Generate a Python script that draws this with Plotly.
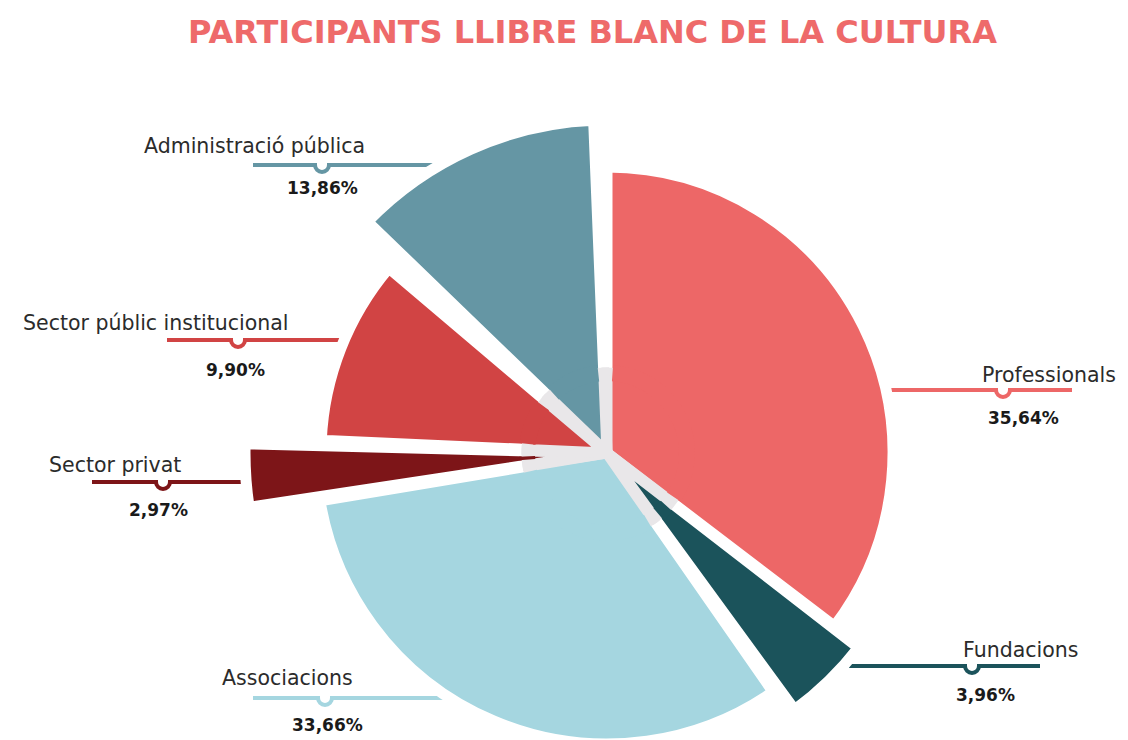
import plotly.graph_objects as go

# ---------------- data ----------------
categories = ["Professionals", "Fundacions", "Associacions", "Sector privat",
              "Sector públic institucional", "Administració pública"]
percentages = [35.64, 3.96, 33.66, 2.97, 9.90, 13.86]
title_text = "PARTICIPANTS LLIBRE BLANC DE LA CULTURA"

# ---------------- style ----------------
colors = ["#ED6767", "#1B535B", "#A5D6E0", "#7D1518", "#D14444", "#6596A4"]
slice_radius = [286, 318, 291, 362, 286, 333]   # radial units (decorative)
trim_start = [0.0, -0.6, 2.6, -2.4, -1.9, 3.9]  # degrees of padding (decorative)
trim_end = [1.0, -1.3, 3.2, 3.0, -0.2, 2.3]
GAP_GRAY = "#E9E7E9"
W, FH = 1128, 830          # figure size (bottom part lies below the visible window)
OFF = 8                    # default page body margin
CX, CY = 607, 453          # pie centre in window pixels
HALF = 370
STROKE = 11
INNER_R = 80
LABEL_FONT = "'DejaVu Sans', sans-serif"

# label layout (window pixels): text centre, line y, line x-range, notch x, pct centre
label_layout = {
    "Professionals": dict(tx=1049, ty=375, ly=390, lx=(860, 1072), nx=1003, px=1023, py=418),
    "Fundacions": dict(tx=1020, ty=650, ly=666, lx=(800, 1040), nx=972, px=985, py=695),
    "Associacions": dict(tx=287, ty=678, ly=698, lx=(253, 470), nx=325, px=327, py=725),
    "Sector privat": dict(tx=115, ty=465, ly=482, lx=(92, 290), nx=163, px=158, py=510),
    "Sector públic institucional": dict(tx=156, ty=323, ly=340, lx=(167, 370), nx=238, px=235, py=370),
    "Administració pública": dict(tx=254, ty=146, ly=165, lx=(253, 470), nx=322, px=322, py=188),
}


def px(x):
    return (x - OFF) / W


def py(y):
    return 1 - (y - OFF) / FH


# ---------------- geometry from data ----------------
total = sum(percentages)
thetas, widths = [], []
acc = 0
for p, ts, te in zip(percentages, trim_start, trim_end):
    s = p / total * 360
    a0, a1 = acc + ts, acc + s - te
    thetas.append((a0 + a1) / 2)
    widths.append(a1 - a0)
    acc += s

fig = go.Figure()
# A: full slices with white gaps
fig.add_trace(go.Barpolar(
    r=[r - 1 for r in slice_radius], base=1, theta=thetas, width=widths,
    marker=dict(color=colors, line=dict(color="white", width=STROKE)),
    hoverinfo="skip", showlegend=False))
# B: inner part, gaps gray
fig.add_trace(go.Barpolar(
    r=[INNER_R - 1] * len(widths), base=1, theta=thetas, width=widths,
    marker=dict(color=colors, line=dict(color=GAP_GRAY, width=STROKE)),
    hoverinfo="skip", showlegend=False))
# E: ring hiding the inner arc strokes
ring_gap = STROKE / INNER_R * 57.2958
fig.add_trace(go.Barpolar(
    r=[16] * len(widths), base=INNER_R - 8, theta=thetas,
    width=[w - ring_gap for w in widths],
    marker=dict(color=colors, line=dict(width=0)),
    hoverinfo="skip", showlegend=False))

annotations = [dict(
    text=title_text, x=px(592), y=py(32), xref="paper", yref="paper",
    xanchor="center", yanchor="middle", showarrow=False,
    font=dict(family="'DejaVu Sans', sans-serif", size=32, weight=700, color="#EE6A6A"))]
shapes = []
R = 7
k = 0.5523 * R
for cat, pct, col in zip(categories, percentages, colors):
    L = label_layout[cat]
    annotations.append(dict(
        text=cat, x=px(L["tx"]), y=py(L["ty"]), xref="paper", yref="paper",
        xanchor="center", yanchor="middle", showarrow=False,
        font=dict(family=LABEL_FONT, size=20.5, color="#2B2B2B")))
    annotations.append(dict(
        text=f"{pct:.2f}".replace(".", ",") + "%", x=px(L["px"]), y=py(L["py"]),
        xref="paper", yref="paper", xanchor="center", yanchor="middle", showarrow=False,
        font=dict(family=LABEL_FONT, size=17, weight=700, color="#1A1A1A")))
    x0, x1 = L["lx"]
    y = L["ly"]
    n = L["nx"]
    pts = [
        f"M{px(x0)},{py(y)}",
        f"L{px(n - R)},{py(y)}",
        f"C{px(n - R)},{py(y + k)} {px(n - k)},{py(y + R)} {px(n)},{py(y + R)}",
        f"C{px(n + k)},{py(y + R)} {px(n + R)},{py(y + k)} {px(n + R)},{py(y)}",
        f"L{px(x1)},{py(y)}",
    ]
    shapes.append(dict(type="path", path=" ".join(pts), xref="paper", yref="paper",
                       line=dict(color=col, width=4), layer="below"))

fcx, fcy = CX - OFF, CY - OFF
fig.update_layout(
    width=W, height=FH, margin=dict(l=0, r=0, t=0, b=0),
    paper_bgcolor="white", plot_bgcolor="white", showlegend=False,
    polar=dict(
        domain=dict(x=[(fcx - HALF) / W, (fcx + HALF) / W],
                    y=[1 - (fcy + HALF) / FH, 1 - (fcy - HALF) / FH]),
        radialaxis=dict(range=[0, HALF], visible=False),
        angularaxis=dict(rotation=90, direction="clockwise", visible=False),
        bgcolor="rgba(0,0,0,0)", barmode="overlay"),
    annotations=annotations, shapes=shapes)

fig.write_html("out.html")
